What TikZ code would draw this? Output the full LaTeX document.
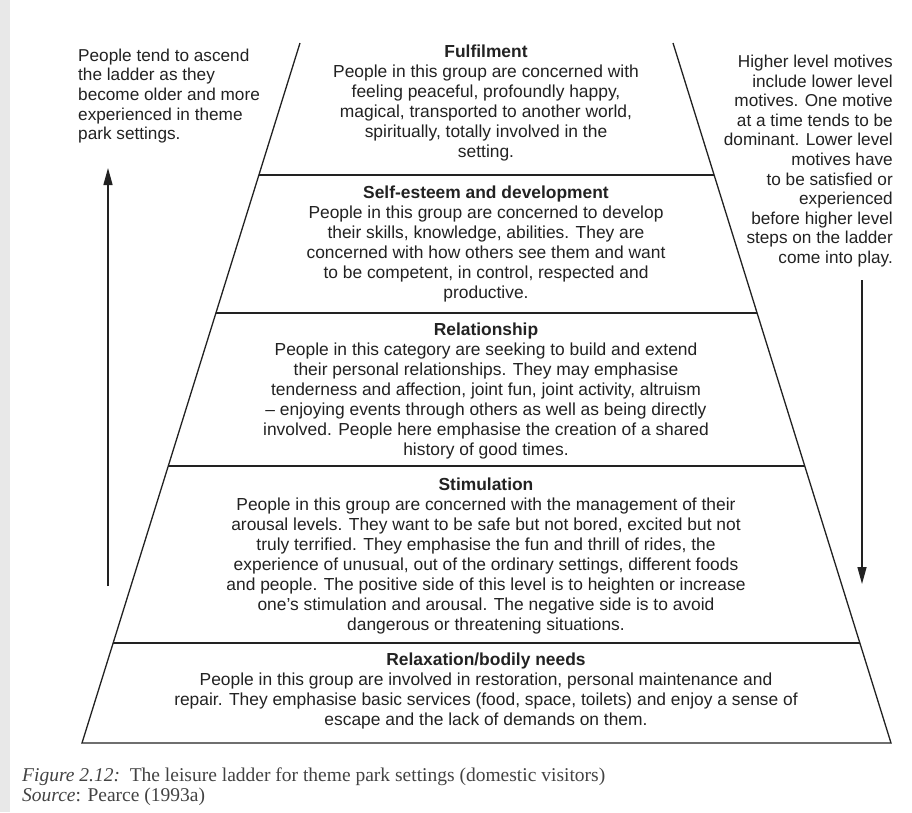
\documentclass[tikz,border=0pt]{standalone}
\usepackage{fontspec}
\setmainfont{Liberation Sans}
\newfontfamily\capfont{Liberation Serif}
\usetikzlibrary{arrows.meta}
\definecolor{ink}{HTML}{222222}
\tikzset{
  edge/.style={draw=ink, line width=1.3pt},
  block/.style={align=center, inner sep=0pt, text=ink, font=\fontsize{17.4}{20}\selectfont},
  side/.style={inner sep=0pt, text=ink, font=\fontsize{17.2}{19.6}\selectfont},
  arr/.style={draw=ink, line width=1.4pt, -{Triangle[width=9pt,length=17pt]}},
  captext/.style={inner sep=0pt, anchor=west, text=ink!85, font=\capfont\fontsize{19.5}{21}\selectfont}
}
\begin{document}
\begin{tikzpicture}[x=1pt,y=-1pt]
\useasboundingbox (0,0) rectangle (912,812);
\fill[white] (0,0) rectangle (912,812);
\fill[gray!18] (0,0) rectangle (10,812);
% trapezoid corners
\coordinate (tl) at (300,43);
\coordinate (tr) at (673,43);
\coordinate (bl) at (82,743);
\coordinate (br) at (891,743);
\draw[edge] (tl) -- (bl) -- (br) -- (tr);
% horizontal dividers
\foreach \y/\n in {175/a,313/b,466/c,643/d}{
  \coordinate (l\n) at ({300-0.3114*(\y-43)},\y);
  \coordinate (r\n) at ({673+0.3114*(\y-43)},\y);
  \draw[edge] (l\n) -- (r\n);
}
% level texts
\node[block] (ful) at (486,103) {\textbf{Fulfilment}\\People in this group are concerned with\\feeling peaceful, profoundly happy,\\magical, transported to another world,\\spiritually, totally involved in the\\setting.};
\node[block] (self) at (486,244) {\textbf{Self-esteem and development}\\People in this group are concerned to develop\\their skills, knowledge, abilities. They are\\concerned with how others see them and want\\to be competent, in control, respected and\\productive.};
\node[block] (rel) at (486,391) {\textbf{Relationship}\\People in this category are seeking to build and extend\\their personal relationships. They may emphasise\\tenderness and affection, joint fun, joint activity, altruism\\-- enjoying events through others as well as being directly\\involved. People here emphasise the creation of a shared\\history of good times.};
\node[block] (stim) at (486,555.5) {\textbf{Stimulation}\\People in this group are concerned with the management of their\\arousal levels. They want to be safe but not bored, excited but not\\truly terrified. They emphasise the fun and thrill of rides, the\\experience of unusual, out of the ordinary settings, different foods\\and people. The positive side of this level is to heighten or increase\\one's stimulation and arousal. The negative side is to avoid\\dangerous or threatening situations.};
\node[block] (relax) at (486,690.5) {\textbf{Relaxation/bodily needs}\\People in this group are involved in restoration, personal maintenance and\\repair. They emphasise basic services (food, space, toilets) and enjoy a sense of\\escape and the lack of demands on them.};
% side notes
\node[side, align=left, anchor=west] (lnote) at (78,96) {People tend to ascend\\the ladder as they\\become older and more\\experienced in theme\\park settings.};
\node[side, align=right, anchor=east] (rnote) at (893,161) {Higher level motives\\include lower level\\motives. One motive\\at a time tends to be\\dominant. Lower level\\motives have\\to be satisfied or\\experienced\\before higher level\\steps on the ladder\\come into play.};
% arrows
\coordinate (upS) at (108,586);
\coordinate (upE) at (108,168);
\coordinate (dnS) at (862,280);
\coordinate (dnE) at (862,584);
\draw[arr] (upS) -- (upE);
\draw[arr] (dnS) -- (dnE);
% caption
\node[captext] (fig) at (22,777) {\textit{Figure 2.12:}\ \ The leisure ladder for theme park settings (domestic visitors)};
\node[captext] (src) at (22,797) {\textit{Source}: Pearce (1993a)};
\end{tikzpicture}
\end{document}
